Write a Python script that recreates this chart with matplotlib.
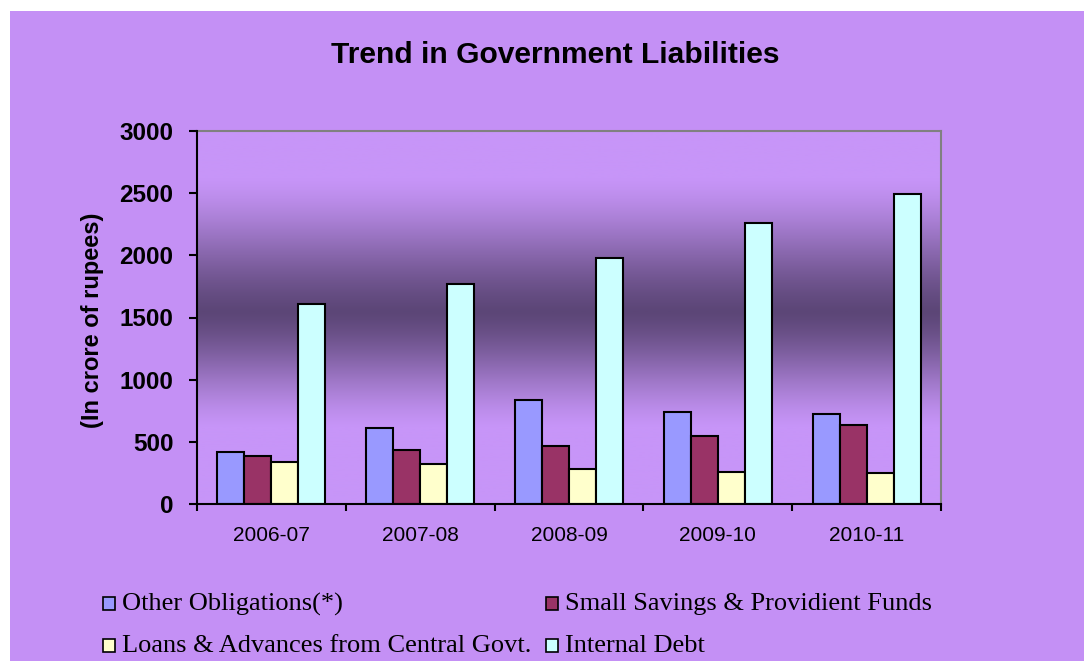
import numpy as np
import matplotlib
matplotlib.use("Agg")
import matplotlib.pyplot as plt
from matplotlib.colors import LinearSegmentedColormap
from matplotlib.patches import Rectangle

# Data: Trend in Government Liabilities (in crore of rupees)
years = ['2006-07', '2007-08', '2008-09', '2009-10', '2010-11']
series_names = [
    'Other Obligations(*)',
    'Small Savings & Providient Funds',
    'Loans & Advances from Central Govt.',
    'Internal Debt',
]
other_obligations = [420, 613, 838, 742, 726]
small_savings = [388, 434, 469, 549, 633]
loans_advances = [340, 324, 279, 260, 247]
internal_debt = [1610, 1771, 1980, 2257, 2495]
yticks = [0, 500, 1000, 1500, 2000, 2500, 3000]

series_values = [other_obligations, small_savings, loans_advances, internal_debt]
colors = ['#9999ff', '#993366', '#ffffcc', '#ccffff']

W, H = 1084, 661
fig = plt.figure(figsize=(W / 100, H / 100), dpi=100)
fig.patch.set_facecolor('white')

# purple chart area background
bg = '#c490f5'
fig.patches.append(Rectangle((10 / W, 0), 1 - 10 / W, (H - 11) / H,
                             transform=fig.transFigure, facecolor=bg,
                             edgecolor='none', zorder=-5))

ax = fig.add_axes([197 / W, 1 - 504 / H, (941 - 197) / W, (504 - 131) / H])
ax.set_facecolor('none')

# vertical gradient: light at top and bottom, dark band a bit above the middle
f = np.linspace(0, 1, 500)
center = 0.515
t = np.where(f > center, (f - center) / 0.36, (center - f) / 0.31)
t = np.clip(t, 0, 1)
t = 0.5 * t + 0.5 * t * t * (3 - 2 * t)
cmap = LinearSegmentedColormap.from_list('g', ['#5c4677', '#c795f8'])
ax.imshow(t[:, None], cmap=cmap, vmin=0, vmax=1, aspect='auto',
          extent=[0, 1, 0, 1], transform=ax.transAxes, origin='lower', zorder=0)

x = np.arange(len(years))
bw = 0.1815
for k, (vals, col) in enumerate(zip(series_values, colors)):
    ax.bar(x + (k - 1.5) * bw, vals, width=bw, color=col, edgecolor='black',
           linewidth=1.5, zorder=2)

ax.set_xlim(-0.5, len(years) - 0.5)
ax.set_ylim(0, 3000)
ax.set_yticks(yticks)
ax.set_yticklabels([str(v) for v in yticks], fontsize=17.5, fontweight='bold',
                   family='Liberation Sans')
ax.set_xticks(x)
ax.set_xticklabels(years, fontsize=15, family='Liberation Sans')
ax.set_xticks(np.arange(len(years) + 1) - 0.5, minor=True)
ax.tick_params(axis='x', which='major', length=0, pad=16)
ax.tick_params(axis='x', which='minor', length=5, width=1.5, direction='out')
ax.tick_params(axis='y', length=6, width=1.5, direction='out', pad=11)

for s in ['left', 'bottom']:
    ax.spines[s].set_color('black')
    ax.spines[s].set_linewidth(1.5)
    ax.spines[s].set_zorder(3)
for s in ['top', 'right']:
    ax.spines[s].set_color('#808080')
    ax.spines[s].set_linewidth(1.5)

fig.text(555 / W, 1 - 55 / H, 'Trend in Government Liabilities', ha='center',
         va='center', fontsize=21.6, fontweight='bold', family='Liberation Sans')
fig.text(93 / W, 1 - 320 / H, '(In crore of rupees)', rotation=90,
         ha='center', va='center', fontsize=17, fontweight='bold',
         family='Liberation Sans')

# legend laid out like the original (2 columns, 2 rows)
legend_pos = [(103, 604), (546, 604), (103, 646), (546, 646)]
for name, col, (lx, ly) in zip(series_names, colors, legend_pos):
    fig.patches.append(Rectangle((lx / W, 1 - (ly + 6) / H), 12 / W, 13 / H,
                                 transform=fig.transFigure, facecolor=col,
                                 edgecolor='black', linewidth=1.2, zorder=2))
    fig.text((lx + 19) / W, 1 - ly / H, name, ha='left', va='center',
             fontsize=19, family='Liberation Serif')

fig.savefig('out.png', dpi=100)
